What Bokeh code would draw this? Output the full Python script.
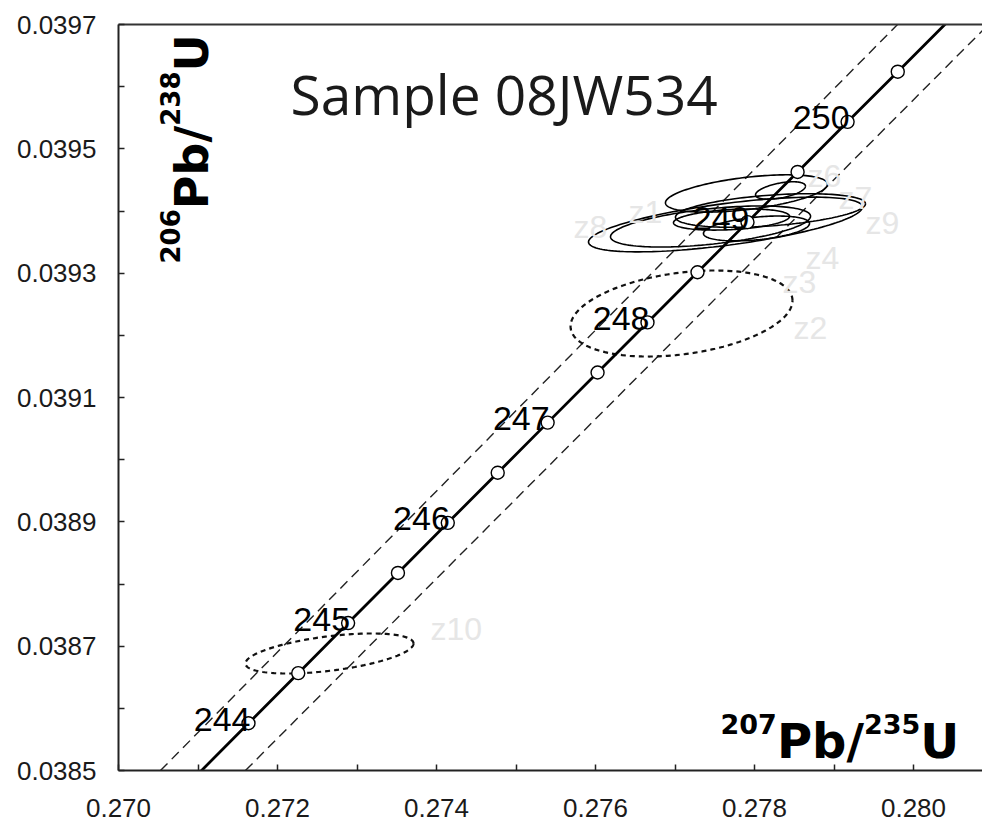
import numpy as np
from bokeh.plotting import figure
from bokeh.models import Range1d, FixedTicker, LinearAxis, Label, NumeralTickFormatter
from bokeh.core.properties import value
from bokeh.embed import file_html
from bokeh.resources import INLINE

# ---------------- data ----------------
# Concordia curve points (age in Ma, 207Pb/235U, 206Pb/238U)
conc_age = [243.5, 244.0, 244.5, 245.0, 245.5, 246.0, 246.5, 247.0,
            247.5, 248.0, 248.5, 249.0, 249.5, 250.0, 250.5, 251.0]
conc_x = [0.271009, 0.271635, 0.272261, 0.272888, 0.273515, 0.274142, 0.274770, 0.275398,
          0.276026, 0.276654, 0.277283, 0.277912, 0.278542, 0.279171, 0.279802, 0.280432]
conc_y = [0.0384954, 0.0385760, 0.0386566, 0.0387372, 0.0388178, 0.0388984, 0.0389790, 0.0390596,
          0.0391402, 0.0392208, 0.0393015, 0.0393821, 0.0394628, 0.0395434, 0.0396241, 0.0397048]

# decay-constant error envelope (dashed lines)
env_lo_x = [0.270528, 0.279799]
env_lo_y = [0.0385, 0.0397]
env_hi_x = [0.271597, 0.280943]
env_hi_y = [0.0385, 0.0397]

# solid error ellipses: centre, half-widths (x, y), correlation
ell_cx = [0.277899, 0.277635, 0.277447, 0.277711, 0.278025, 0.278327, 0.278201]
ell_cy = [0.0394282, 0.0393783, 0.0393751, 0.0393863, 0.0393719, 0.0394330, 0.0394008]
ell_sx = [0.001019, 0.001723, 0.001258, 0.000730, 0.000667, 0.000314, 0.001195]
ell_sy = [0.0000300, 0.0000440, 0.0000330, 0.0000170, 0.0000200, 0.0000140, 0.0000270]
ell_rho = [0.5, 0.64, 0.5, 0.3, 0.4, 0.5, 0.4]

# dashed error ellipses (z2, z10)
dell_cx = [0.277082, 0.272654]
dell_cy = [0.0392351, 0.0386882]
dell_sx = [0.001396, 0.001057]
dell_sy = [0.0000692, 0.0000322]
dell_rho = [0.3, 0.5]

# analysis labels (grey)
z_names = ["z1", "z2", "z3", "z4", "z6", "z7", "z8", "z9", "z10"]
z_x = [0.276415, 0.278491, 0.278352, 0.278642, 0.278667, 0.279057, 0.275723, 0.279396, 0.273925]
z_y = [0.0393976, 0.0392126, 0.0392850, 0.0393252, 0.0394571, 0.0394217, 0.0393735, 0.0393815, 0.0387284]

x_ticks = [0.270, 0.272, 0.274, 0.276, 0.278, 0.280]
x_minor = [0.271, 0.273, 0.275, 0.277, 0.279]
y_ticks = [0.0385, 0.0387, 0.0389, 0.0391, 0.0393, 0.0395, 0.0397]
y_minor = [0.0386, 0.0388, 0.0390, 0.0392, 0.0394, 0.0396]

title_text = "Sample 08JW534"

# ---------------- layout ----------------
W, H = 982, 822
FL, FT = 118, 24            # frame left / top in canvas px
FH = 746
X0, Y0, Y1 = 0.270, 0.0385, 0.0397
PXX = 79500.0               # px per unit x
X1 = X0 + (W - FL) / PXX
PXY = FH / (Y1 - Y0)

def px_x(px):   # canvas px -> data x
    return X0 + (px - FL) / PXX

def px_y(py):   # canvas px -> data y
    return Y1 - (py - FT) / PXY

p = figure(width=W, height=H, x_range=Range1d(X0, X1), y_range=Range1d(Y0, Y1),
           output_backend="svg", toolbar_location=None,
           min_border_left=FL, min_border_right=0, min_border_top=FT,
           min_border_bottom=H - FT - FH)
p.outline_line_color = None
p.grid.visible = False
p.background_fill_color = "white"
p.border_fill_color = "white"

AX = "#222222"
for ax in (p.xaxis[0], p.yaxis[0]):
    ax.axis_line_width = 2
    ax.axis_line_color = AX
    ax.major_tick_in = 6
    ax.major_tick_out = 0
    ax.minor_tick_in = 6
    ax.minor_tick_out = 0
    ax.major_tick_line_color = AX
    ax.minor_tick_line_color = AX
    ax.major_tick_line_width = 1.5
    ax.minor_tick_line_width = 1.5
    ax.major_label_text_font = "Liberation Sans"
    ax.major_label_text_font_size = "26px"
    ax.major_label_text_color = "#1a1a1a"

p.xaxis[0].ticker = FixedTicker(ticks=x_ticks, minor_ticks=x_minor)
p.yaxis[0].ticker = FixedTicker(ticks=y_ticks, minor_ticks=y_minor)
p.xaxis[0].formatter = NumeralTickFormatter(format="0.000")
p.yaxis[0].formatter = NumeralTickFormatter(format="0.0000")
p.xaxis[0].major_label_standoff = 28
p.xaxis[0].major_label_text_line_height = 0.6
p.yaxis[0].major_label_standoff = 22

top = LinearAxis(ticker=FixedTicker(ticks=[]), major_tick_in=0, major_tick_out=0,
                 minor_tick_in=0, minor_tick_out=0, major_label_text_font_size="0px",
                 axis_line_width=2, axis_line_color="#333333")
p.add_layout(top, "above")

# envelope
p.line(env_lo_x, env_lo_y, line_color="#222222", line_width=1.4, line_dash="10 6")
p.line(env_hi_x, env_hi_y, line_color="#222222", line_width=1.4, line_dash="10 6")

# ellipses
def ell(cx, cy, sx, sy, r, n=160):
    t = np.linspace(0, 2 * np.pi, n)
    return (cx + sx * np.cos(t)).tolist(), (cy + sy * (r * np.cos(t) + np.sqrt(1 - r * r) * np.sin(t))).tolist()

xs, ys = [], []
for a in zip(ell_cx, ell_cy, ell_sx, ell_sy, ell_rho):
    ex, ey = ell(*a)
    xs.append(ex); ys.append(ey)
p.multi_line(xs, ys, line_color="black", line_width=1.6)

dxs, dys = [], []
for a in zip(dell_cx, dell_cy, dell_sx, dell_sy, dell_rho):
    ex, ey = ell(*a)
    dxs.append(ex); dys.append(ey)
p.multi_line(dxs, dys, line_color="#111111", line_width=2.2, line_dash="5 4")

# concordia
p.line(conc_x, conc_y, line_color="black", line_width=2.8)
mk_x = conc_x[1:15]
mk_y = conc_y[1:15]
p.scatter(mk_x, mk_y, size=13, marker="circle", fill_color="white", line_color="black", line_width=1.4)

lab_idx = [i for i, a in enumerate(conc_age) if float(a).is_integer() and 244 <= a <= 250]
p.text([conc_x[i] for i in lab_idx], [conc_y[i] for i in lab_idx],
       text=[str(int(conc_age[i])) for i in lab_idx],
       text_font=value("Liberation Sans"), text_font_size="34px", text_color="black",
       text_align="right", text_baseline="alphabetic", x_offset=2, y_offset=-4)

# grey analysis labels
p.text(z_x, z_y, text=z_names, text_font=value("Liberation Sans"), text_font_size="32px",
       text_color="#e6e6e6", text_align="left", text_baseline="alphabetic")

# title
p.add_layout(Label(x=px_x(290), y=px_y(93), text=title_text, text_font="Open Sans",
                   text_font_size="55px", text_color="#1a1a1a", text_baseline="alphabetic"))

# axis titles built from pieces (superscripts)
F = "DejaVu Sans"
wd, wP, wU = 0.696, (0.733 + 0.716 + 0.365), 0.812
def piece(x, y, t, size, angle=0.0):
    p.add_layout(Label(x=x, y=y, text=t, text_font=F, text_font_style="bold",
                       text_font_size=f"{size}px", text_color="black",
                       text_baseline="alphabetic", text_align="left", angle=angle))

# x axis title: 207Pb/235U
SUP, BIG = 27, 48
sx0 = 720
piece(px_x(sx0), px_y(723), "207", SUP)
sx1 = sx0 + 3 * wd * SUP
piece(px_x(sx1), px_y(740), "Pb/", BIG)
sx2 = sx1 + wP * BIG
piece(px_x(sx2), px_y(723), "235", SUP)
sx3 = sx2 + 3 * wd * SUP
piece(px_x(sx3), px_y(740), "U", BIG)

# y axis title: 206Pb/238U (rotated)
SUPY, BIGY = 26, 46
sy0 = 263
piece(px_x(169), px_y(sy0), "206", SUPY, np.pi / 2)
sy1 = sy0 - 3 * wd * SUPY
piece(px_x(191), px_y(sy1), "Pb/", BIGY, np.pi / 2)
sy2 = sy1 - wP * BIGY
piece(px_x(169), px_y(sy2), "238", SUPY, np.pi / 2)
sy3 = sy2 - 3 * wd * SUPY
piece(px_x(191), px_y(sy3), "U", BIGY, np.pi / 2)

open("out.html", "w").write(file_html(p, INLINE))
